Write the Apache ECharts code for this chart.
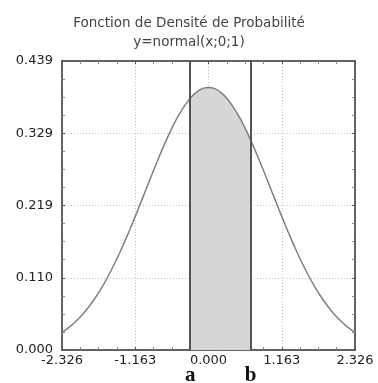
<!DOCTYPE html>
<html><head><meta charset="utf-8">
<script src="https://cdn.jsdelivr.net/npm/echarts@6/dist/echarts.min.js"></script>
<style>html,body{margin:0;background:#fff}#c{width:378px;height:383px}</style>
</head><body><div id="c"></div>
<script>
// Standard normal density, sampled along x
const xValues = [-2.326, -2.3, -2.2, -2.1, -2.0, -1.9, -1.8, -1.7, -1.6, -1.5, -1.4, -1.3, -1.2, -1.1, -1.0,
  -0.9, -0.8, -0.7, -0.6, -0.5, -0.4, -0.3, -0.29, -0.2, -0.1, 0.0, 0.1, 0.2, 0.3, 0.4, 0.5, 0.6, 0.67, 0.7,
  0.8, 0.9, 1.0, 1.1, 1.2, 1.3, 1.4, 1.5, 1.6, 1.7, 1.8, 1.9, 2.0, 2.1, 2.2, 2.3, 2.326];
const densityValues = [0.0267, 0.0283, 0.0355, 0.0440, 0.0540, 0.0656, 0.0790, 0.0940, 0.1109, 0.1295, 0.1497,
  0.1714, 0.1942, 0.2179, 0.2420, 0.2661, 0.2897, 0.3123, 0.3332, 0.3521, 0.3683, 0.3814, 0.3825, 0.3910,
  0.3970, 0.3989, 0.3970, 0.3910, 0.3814, 0.3683, 0.3521, 0.3332, 0.3187, 0.3123, 0.2897, 0.2661, 0.2420,
  0.2179, 0.1942, 0.1714, 0.1497, 0.1295, 0.1109, 0.0940, 0.0790, 0.0656, 0.0540, 0.0440, 0.0355, 0.0283, 0.0267];
const xTickLabels = ['-2.326', '-1.163', '0.000', '1.163', '2.326'];
const yTickLabels = ['0.000', '0.110', '0.219', '0.329', '0.439'];
const boundA = -0.29;
const boundB = 0.67;
const boundNames = ['a', 'b'];

const xMin = -2.326, xMax = 2.326, xStep = 1.163;
const yMin = 0, yMax = 0.439, yStep = 0.10975;

const curve = xValues.map((x, i) => [x, densityValues[i]]);
const shaded = curve.filter(p => p[0] >= boundA - 1e-9 && p[0] <= boundB + 1e-9);

const frame = { show: true, onZero: false, lineStyle: { color: '#333', width: 1.5 } };
const tick = { show: true, inside: true, length: 3, lineStyle: { color: '#555' } };
const minor = { show: true, splitNumber: 4, length: 3, lineStyle: { color: '#888' } };
const dotted = { show: true, lineStyle: { color: '#c2c2c2', type: [1, 2], width: 1 } };
const sans = 'DejaVu Sans, Verdana, sans-serif';
const labelFont = { color: '#222', fontSize: 13, fontFamily: sans };

const chart = echarts.init(document.getElementById('c'));
chart.setOption({
  animation: false,
  backgroundColor: '#fff',
  title: {
    text: 'Fonction de Densité de Probabilité\ny=normal(x;0;1)',
    left: 'center', top: 9,
    textStyle: { color: '#444', fontSize: 13.5, fontWeight: 'normal', lineHeight: 19, fontFamily: sans }
  },
  grid: { left: 62, right: 23, top: 61, bottom: 33 },
  xAxis: [
    { type: 'value', min: xMin, max: xMax, interval: xStep, axisLine: frame, axisTick: tick, minorTick: minor,
      splitLine: dotted,
      axisLabel: Object.assign({ margin: 4,
        formatter: v => xTickLabels[Math.round((v - xMin) / xStep)] }, labelFont) },
    { type: 'value', position: 'top', min: xMin, max: xMax, interval: xStep, axisLine: frame, axisTick: tick,
      minorTick: minor, splitLine: { show: false }, axisLabel: { show: false } }
  ],
  yAxis: [
    { type: 'value', min: yMin, max: yMax, interval: yStep, axisLine: frame, axisTick: tick, minorTick: minor,
      splitLine: dotted,
      axisLabel: Object.assign({ margin: 9,
        formatter: v => yTickLabels[Math.round((v - yMin) / yStep)] }, labelFont) },
    { type: 'value', position: 'right', min: yMin, max: yMax, interval: yStep, axisLine: frame, axisTick: tick,
      minorTick: minor, splitLine: { show: false }, axisLabel: { show: false } }
  ],
  series: [
    {
      type: 'line', data: shaded, showSymbol: false, smooth: 0.3,
      lineStyle: { width: 0 }, areaStyle: { color: '#d6d6d6', opacity: 1 }, z: 2,
      markLine: {
        symbol: 'none', silent: true,
        lineStyle: { color: '#555', width: 2, type: 'solid' },
        label: {
          show: true, position: 'start', distance: 15,
          formatter: p => p.name,
          color: '#111', fontSize: 21, fontWeight: 'bold', fontFamily: 'Liberation Serif, Times New Roman, serif'
        },
        data: [{ xAxis: boundA, name: boundNames[0] }, { xAxis: boundB, name: boundNames[1] }]
      }
    },
    {
      type: 'line', data: curve, showSymbol: false, smooth: 0.3,
      lineStyle: { color: '#808080', width: 1.5 }, z: 3
    }
  ]
});
</script>
</body></html>
